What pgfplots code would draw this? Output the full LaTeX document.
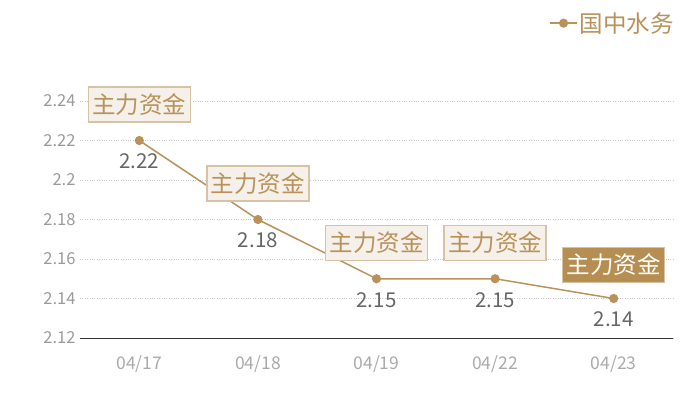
\documentclass[border=0pt]{standalone}
\usepackage{fontspec}
\setmainfont{Noto Sans CJK SC}
\usepackage{pgfplots}
\pgfplotsset{compat=1.18}
\definecolor{gold}{HTML}{B8925A}
\definecolor{boxfill}{HTML}{F5F0E9}
\definecolor{boxline}{HTML}{D6C3A3}
\definecolor{darkbox}{HTML}{B68E52}
\definecolor{valgray}{HTML}{666666}
\definecolor{tickgray}{HTML}{9A9A9A}
\definecolor{xgray}{HTML}{AAAAAA}

\begin{document}
\begin{tikzpicture}
\useasboundingbox (0,0) rectangle (700pt,400pt);
\begin{axis}[
  at={(80pt,62pt)}, anchor=south west,
  width=593pt, height=237pt, scale only axis,
  xmin=-0.5, xmax=4.5, ymin=2.12, ymax=2.24,
  xtick={0,1,2,3,4},
  xticklabels={04/17,04/18,04/19,04/22,04/23},
  ytick={2.12,2.14,2.16,2.18,2.2,2.22,2.24},
  yticklabels={2.12,2.14,2.16,2.18,2.2,2.22,2.24},
  axis x line*=bottom, axis y line*=left,
  y axis line style={draw=none},
  x axis line style={draw=black!80, line width=0.8pt},
  major tick length=0pt,
  ymajorgrids, grid style={dotted, black!22, line width=0.8pt},
  yticklabel style={font=\fontsize{16.5}{16.5}\selectfont, text=tickgray, xshift=-1pt},
  xticklabel style={font=\fontsize{17.5}{17.5}\selectfont, text=xgray, yshift=-14pt},
  /pgf/number format/assume math mode=true,
  clip=false,
  legend style={draw=none, fill=none, at={(1,1)}, anchor=south east,
    yshift=63pt, xshift=6pt, font=\fontsize{23.5}{23.5}\selectfont, text=gold},
  legend cell align=left,
  legend image code/.code={\draw[#1, mark repeat=2, mark phase=2]
    plot coordinates {(0pt,0pt) (13.5pt,0pt) (27pt,0pt)};},
]
\addplot[gold, line width=1.5pt, mark=*, mark size=3.8pt,
  nodes near coords, point meta=explicit symbolic,
  nodes near coords style={anchor=center, yshift=-21pt,
    font=\fontsize{20.5}{20.5}\selectfont, text=valgray}]
  coordinates {(0,2.22) [2.22] (1,2.18) [2.18] (2,2.15) [2.15] (3,2.15) [2.15] (4,2.14) [2.14]};
\addlegendentry{国中水务}
\addplot[draw=none, forget plot,
  nodes near coords, point meta=explicit symbolic,
  nodes near coords style={anchor=center, yshift=36pt,
    font=\fontsize{23.5}{23.5}\selectfont, text=gold, fill=boxfill,
    draw=boxline, line width=1.3pt, inner sep=0pt,
    minimum width=102pt, minimum height=35pt}]
  coordinates {(0,2.22) [主力资金] (1,2.18) [主力资金] (2,2.15) [主力资金] (3,2.15) [主力资金]};
\addplot[draw=none, forget plot,
  nodes near coords, point meta=explicit symbolic,
  nodes near coords style={anchor=center, yshift=34pt,
    font=\fontsize{23.5}{23.5}\selectfont, text=white, fill=darkbox,
    draw=boxline, line width=0.8pt, inner sep=0pt,
    minimum width=102pt, minimum height=35pt}]
  coordinates {(4,2.14) [主力资金]};
\end{axis}
\end{tikzpicture}
\end{document}
